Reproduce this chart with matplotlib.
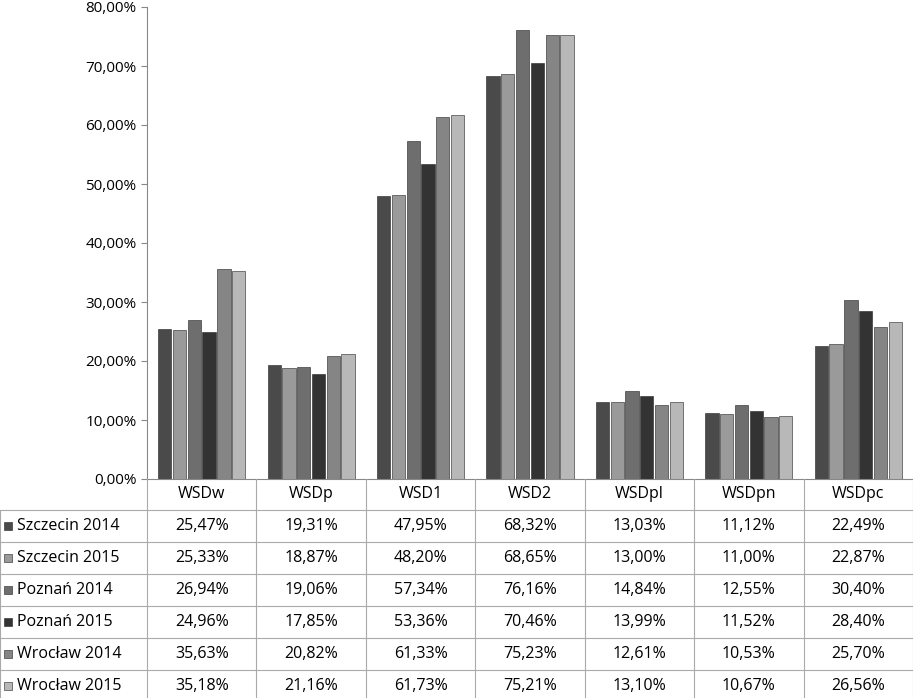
import matplotlib.pyplot as plt
import numpy as np

categories = ["WSDw", "WSDp", "WSD1", "WSD2", "WSDpl", "WSDpn", "WSDpc"]
series_names = ["Szczecin 2014", "Szczecin 2015", "Poznań 2014", "Poznań 2015", "Wrocław 2014", "Wrocław 2015"]
szczecin_2014 = [25.47, 19.31, 47.95, 68.32, 13.03, 11.12, 22.49]
szczecin_2015 = [25.33, 18.87, 48.20, 68.65, 13.00, 11.00, 22.87]
poznan_2014 = [26.94, 19.06, 57.34, 76.16, 14.84, 12.55, 30.40]
poznan_2015 = [24.96, 17.85, 53.36, 70.46, 13.99, 11.52, 28.40]
wroclaw_2014 = [35.63, 20.82, 61.33, 75.23, 12.61, 10.53, 25.70]
wroclaw_2015 = [35.18, 21.16, 61.73, 75.21, 13.10, 10.67, 26.56]
series = [szczecin_2014, szczecin_2015, poznan_2014, poznan_2015, wroclaw_2014, wroclaw_2015]
colors = ["#4a4a4a", "#9a9a9a", "#6e6e6e", "#333333", "#858585", "#b8b8b8"]

plt.rcParams["font.family"] = "Open Sans"
W, H = 913, 698
fig = plt.figure(figsize=(W / 100, H / 100), dpi=100)
left, right, top, bottom = 147, 913, 7, 479
ax = fig.add_axes([left / W, 1 - bottom / H, (right - left) / W, (bottom - top) / H])

x = np.arange(len(categories))
bw = 0.135
for i, (vals, c) in enumerate(zip(series, colors)):
    ax.bar(x + (i - 2.5) * bw, vals, bw * 0.9, color=c, edgecolor="#222222", linewidth=0.4)

ax.set_xlim(-0.5, len(categories) - 0.5)
ax.set_ylim(0, 80)
ax.set_yticks(range(0, 81, 10))
ax.set_yticklabels([f"{v},00%" for v in range(0, 81, 10)], fontsize=11)
ax.set_xticks([])
ax.spines["top"].set_visible(False)
ax.spines["right"].set_visible(False)
ax.spines["bottom"].set_color("#888888")
ax.spines["left"].set_color("#888888")
ax.tick_params(axis="y", length=4, color="#888888")

# data table below the plot
def fx(px):
    return px / W

def fy(py):
    return 1 - py / H

line_kw = dict(color="#aaaaaa", linewidth=0.8, transform=fig.transFigure)
row_edges = [479, 510, 542, 574, 606, 638, 670, 702]
col_w = (right - left) / len(categories)
# header vertical lines
for j in range(len(categories) + 1):
    xp = left + j * col_w
    fig.add_artist(plt.Line2D([fx(xp), fx(xp)], [fy(479), fy(698)], **line_kw))
for r in row_edges[1:-1]:
    fig.add_artist(plt.Line2D([0, fx(W)], [fy(r), fy(r)], **line_kw))
fig.add_artist(plt.Line2D([0, 0], [fy(510), fy(698)], **line_kw))

for j, cat in enumerate(categories):
    fig.text(fx(left + (j + 0.5) * col_w), fy((row_edges[0] + row_edges[1]) / 2), cat,
             ha="center", va="center", fontsize=11.5)
for i, (name, vals, c) in enumerate(zip(series_names, series, colors)):
    yc = fy((row_edges[i + 1] + row_edges[i + 2]) / 2)
    fig.patches.append(plt.Rectangle((fx(4), yc - 4 / H), 8 / W, 8 / H, facecolor=c,
                                     edgecolor="#222222", linewidth=0.4, transform=fig.transFigure))
    fig.text(fx(17), yc, name, ha="left", va="center", fontsize=11.5)
    for j, v in enumerate(vals):
        fig.text(fx(left + (j + 0.5) * col_w), yc, f"{v:.2f}%".replace(".", ","),
                 ha="center", va="center", fontsize=11.5)

fig.savefig("out.png", dpi=100)
